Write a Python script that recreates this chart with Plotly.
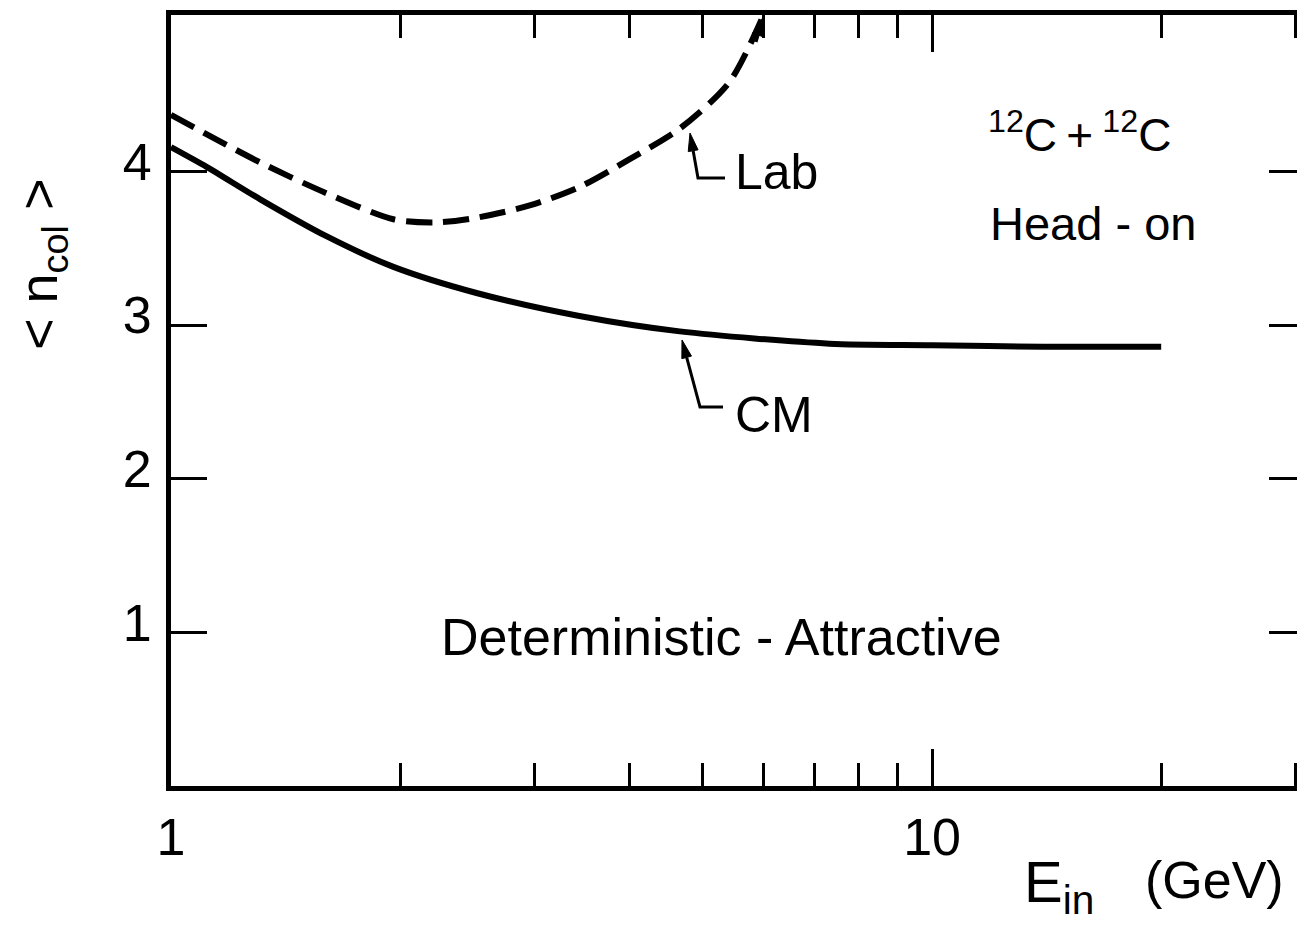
import numpy as np
import plotly.graph_objects as go

# ---------------- data ----------------
E_cm = [1.0, 1.115, 1.31, 1.6, 1.96, 2.52, 3.44, 4.66, 7.33, 10.0, 14.0, 20.0]
n_cm = [4.16, 4.03, 3.82, 3.58, 3.38, 3.21, 3.06, 2.96, 2.88, 2.87, 2.86, 2.86]

E_lab = [1.0, 1.31, 1.6, 1.96, 2.23, 2.52, 2.96, 3.44, 4.0, 4.66, 5.41, 5.98]
n_lab = [4.37, 4.06, 3.86, 3.69, 3.67, 3.70, 3.78, 3.90, 4.08, 4.28, 4.58, 5.0]

x_major = [1, 10]
x_major_text = ["1", "10"]
x_minor = [2, 3, 4, 5, 6, 7, 8, 9, 20, 30]
y_ticks = [1, 2, 3, 4]
y_tick_text = ["1", "2", "3", "4"]

# ---------------- layout geometry ----------------
# the page body has an 8px margin, so the figure is 8px smaller on each side
BODY = 8
W, H = 1305 - BODY, 949 - BODY
PL, PR, PT, PB = 171, 1305, 15, 786          # plot area in page pixels
L, R, T, B = PL - BODY, 0, PT - BODY, H - (PB - BODY)
X_LOG_MAX = 1.49
Y_MAX = 5.02
FONT = "Liberation Sans, Arial, sans-serif"


def px(xp):
    return (xp - PL) / (PR - PL)


def py(yp):
    return (PB - yp) / (PB - PT)


fig = go.Figure()
fig.add_trace(go.Scatter(x=E_cm, y=n_cm, mode="lines", name="CM",
                         line=dict(color="black", width=6, shape="spline", smoothing=0.8)))
fig.add_trace(go.Scatter(x=E_lab, y=n_lab, mode="lines", name="Lab",
                         line=dict(color="black", width=6, dash="26px,11px",
                                   shape="spline", smoothing=0.8)))

annotations = []
shapes = []


def text(s, x, y, size, xanchor="center", yanchor="middle", angle=0):
    annotations.append(dict(text=s, x=px(x), y=py(y), xref="paper", yref="paper",
                            xanchor=xanchor, yanchor=yanchor, showarrow=False,
                            textangle=angle, font=dict(family=FONT, size=size, color="black")))


def pt(p):
    return f"{px(p[0]):.5f},{py(p[1]):.5f}"


def leader(points, head_len=18, half_w=5):
    """points: tip first, then the rest of the polyline (page pixels)."""
    tip = np.array(points[0], float)
    nxt = np.array(points[1], float)
    d = tip - nxt
    d /= np.hypot(*d)
    n = np.array([-d[1], d[0]])
    base = tip - d * head_len
    p1, p2 = base + n * half_w, base - n * half_w
    shapes.append(dict(type="path", xref="paper", yref="paper",
                       path=f"M{pt(tip)} L{pt(p1)} L{pt(p2)} Z",
                       fillcolor="black", line=dict(color="black", width=1)))
    rest = [tuple(base)] + [tuple(p) for p in points[1:]]
    path = "M" + " L".join(pt(p) for p in rest)
    shapes.append(dict(type="path", xref="paper", yref="paper", path=path,
                       line=dict(color="black", width=3)))


text("Deterministic - Attractive", 721, 637, 52)
text("Lab", 733, 172, 50, xanchor="left")
text("CM", 733, 415, 50, xanchor="left")
text("<sup>12</sup>C\u2009+\u2009<sup>12</sup>C", 1079, 132, 46)
text("Head - on", 1093, 223, 47)
text("E<sub>in</sub>", 1022, 886, 58, xanchor="left")
text("(GeV)", 1143, 880, 52, xanchor="left")
text("&lt; n<sub>col</sub> &gt;", 42, 265, 54, angle=-90)

# leaders with arrowheads
leader([(690, 133), (698, 178), (725, 178)])
leader([(682, 340), (700, 407), (723, 407)])
leader([(764, 16), (756, 42)], head_len=20, half_w=6)

fig.update_layout(
    width=W, height=H,
    margin=dict(l=L, r=R, t=T, b=B, pad=0),
    template="none",
    paper_bgcolor="white", plot_bgcolor="white",
    showlegend=False,
    annotations=annotations, shapes=shapes,
    font=dict(family=FONT, color="black"),
)
fig.update_xaxes(
    type="log", range=[0, X_LOG_MAX],
    showgrid=False, zeroline=False,
    showline=True, linewidth=5, linecolor="black", mirror="ticks",
    ticks="inside", tickmode="array", tickvals=x_major, ticktext=x_major_text,
    ticklen=37, tickwidth=3, tickcolor="black",
    tickfont=dict(family=FONT, size=52, color="black"),
    ticklabelstandoff=2,
    minor=dict(tickmode="array", tickvals=x_minor, ticks="inside", ticklen=23,
               tickwidth=3, tickcolor="black", showgrid=False),
)
fig.update_yaxes(
    range=[0, Y_MAX],
    showgrid=False, zeroline=False,
    showline=True, linewidth=5, linecolor="black", mirror="ticks",
    ticks="inside", tickmode="array", tickvals=y_ticks, ticktext=y_tick_text,
    ticklen=36, tickwidth=3, tickcolor="black",
    tickfont=dict(family=FONT, size=52, color="black"),
    ticklabelstandoff=4, ticklabelshift=-10,
)

fig.write_html("out.html")
